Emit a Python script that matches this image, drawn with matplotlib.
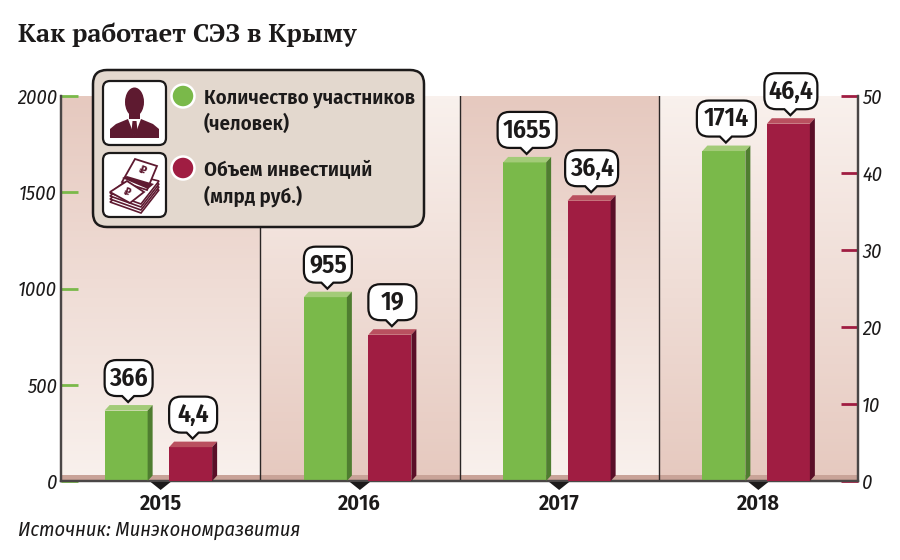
import numpy as np
import matplotlib
matplotlib.use("Agg")
import logging
logging.getLogger("matplotlib.font_manager").setLevel(logging.ERROR)
import matplotlib.pyplot as plt
from matplotlib.patches import FancyBboxPatch, Polygon, PathPatch, Circle, Ellipse, Rectangle
from matplotlib.path import Path
from matplotlib.colors import to_rgb

years = ["2015", "2016", "2017", "2018"]
participants = [366, 955, 1655, 1714]
investments = [4.4, 19, 36.4, 46.4]
participant_labels = ["366", "955", "1655", "1714"]
investment_labels = ["4,4", "19", "36,4", "46,4"]
left_ticks = [0, 500, 1000, 1500, 2000]
right_ticks = [0, 10, 20, 30, 40, 50]
title = "Как работает СЭЗ в Крыму"
source = "Источник: Минэкономразвития"
legend_lines = [("Количество участников", "(человек)"), ("Объем инвестиций", "(млрд руб.)")]

NARROW = ["Fira Sans Condensed", "Roboto Condensed", "PT Sans Narrow", "Roboto", "DejaVu Sans"]
SERIF = ["PT Serif", "Liberation Serif", "DejaVu Serif"]
GREEN, GREEN_TOP, GREEN_SIDE = "#7ab94a", "#a3cb78", "#4f7d30"
RED, RED_TOP, RED_SIDE = "#a01d42", "#b9505f", "#5a0f28"
DARK, LIGHT = "#e6c9bf", "#f9f1ed"
INK = "#1c1a1a"
W, H = 900, 560

fig = plt.figure(figsize=(W / 100, H / 100), dpi=100, facecolor="white")
L, R, T, B = 61, 858, 96, 481
ax = fig.add_axes([L / W, 1 - B / H, (R - L) / W, (B - T) / H])
ax.set_xlim(-0.5, 3.5)
ax.set_ylim(0, 2000)
ax2 = ax.twinx()
ax2.set_ylim(0, 50)
ax2.set_xlim(-0.5, 3.5)

# background bands with alternating vertical gradients
for i in range(len(years)):
    top, bot = (DARK, LIGHT) if i % 2 == 0 else (LIGHT, DARK)
    grad = np.linspace(to_rgb(top), to_rgb(bot), 128)[:, None, :]
    ax.imshow(grad, extent=[i - 0.5, i + 0.5, 0, 2000], aspect="auto", zorder=0, origin="upper")
ax.set_xlim(-0.5, 3.5)
ax.set_ylim(0, 2000)
ax.axhspan(0, 30, color="#c9a398", zorder=1, lw=0)
for i in range(1, len(years)):
    ax.axvline(i - 0.5, color="#2a2626", lw=1.0, zorder=1.5)

x = np.arange(len(years))
bw = 43 / 199.25
off_g, off_r = -34.5 / 199.25, 30 / 199.25
ax.bar(x + off_g, participants, bw, color=GREEN, zorder=3, lw=0)
ax2.bar(x + off_r, investments, bw, color=RED, zorder=3, lw=0)

for a in (ax, ax2):
    a.spines["top"].set_visible(False)
    for s in a.spines.values():
        s.set_linewidth(1.6)
        s.set_color("#4a4646")
    a.patch.set_visible(False)
ax.spines["bottom"].set_color("#2a2626")

ax.set_xticks(x, years, fontfamily=NARROW, fontweight="semibold", fontsize=16, color=INK)
ax.tick_params(axis="x", length=0, pad=9)
ax.set_yticks(left_ticks, [str(v) for v in left_ticks], fontfamily=NARROW, style="italic", fontsize=14.5, color=INK)
ax.tick_params(axis="y", direction="in", length=12.5, width=2, color=GREEN, pad=3)
ax2.set_yticks(right_ticks, [str(v) for v in right_ticks], fontfamily=NARROW, style="italic", fontsize=14.5, color=INK)
ax2.tick_params(axis="y", direction="in", length=12.5, width=2, color=RED, pad=3)

# overlay in pixel coordinates
ov = fig.add_axes([0, 0, 1, 1], zorder=10)
ov.set_xlim(0, W)
ov.set_ylim(H, 0)
ov.axis("off")
ov.patch.set_visible(False)


def to_px(a, xv, yv):
    p = a.transData.transform((xv, yv))
    return p[0], H - p[1]


def bubble(cx, tip_x, tip_y, w, text):
    h, tail, r = 36, 6, 12
    b = tip_y - tail
    t = b - h
    l, rr = cx - w / 2, cx + w / 2
    verts = [(l + r, t), (rr - r, t), (rr, t), (rr, t + r), (rr, b - r), (rr, b), (rr - r, b),
             (tip_x + 6, b), (tip_x, tip_y), (tip_x - 6, b),
             (l + r, b), (l, b), (l, b - r), (l, t + r), (l, t), (l + r, t), (l + r, t)]
    codes = [Path.MOVETO, Path.LINETO, Path.CURVE3, Path.CURVE3, Path.LINETO, Path.CURVE3, Path.CURVE3,
             Path.LINETO, Path.LINETO, Path.LINETO,
             Path.LINETO, Path.CURVE3, Path.CURVE3, Path.LINETO, Path.CURVE3, Path.CURVE3, Path.CLOSEPOLY]
    ov.add_patch(PathPatch(Path(verts, codes), fc="white", ec="#141212", lw=1.6, zorder=6))
    ov.text(cx, (t + b) / 2 + 0.5, text, ha="center", va="center", fontfamily=NARROW,
            fontweight="semibold", fontsize=18.5, color=INK, zorder=7)


def solid(a, xc, val, ctop, cside, label):
    x0, y0 = to_px(a, xc - bw / 2, val)
    x1, y1 = to_px(a, xc + bw / 2, 0)
    dx, dy = 5, 5.5
    ov.add_patch(Polygon([(x0, y0), (x0 + dx, y0 - dy), (x1 + dx, y0 - dy), (x1, y0)], fc=ctop, lw=0, zorder=4))
    ov.add_patch(Polygon([(x1, y0), (x1 + dx, y0 - dy), (x1 + dx, y1 - dy), (x1, y1)], fc=cside, lw=0, zorder=4))
    w = 48 if len(label) <= 3 else 59 if "," not in label else 53
    bubble((x0 + x1 + dx) / 2, (x0 + x1) / 2 + 2, y0 - dy - 3, w, label)


for i in range(len(years)):
    solid(ax, x[i] + off_g, participants[i], GREEN_TOP, GREEN_SIDE, participant_labels[i])
    solid(ax2, x[i] + off_r, investments[i], RED_TOP, RED_SIDE, investment_labels[i])
    cx, cy = to_px(ax, x[i], 0)
    ov.add_patch(Polygon([(cx - 10, cy + 1), (cx + 10, cy + 1), (cx, cy + 9)], fc="#1c1a1a", lw=0, zorder=5))

# title and source
ov.text(18, 35, title, fontfamily=SERIF, fontweight="bold", fontsize=18.3, color=INK, va="center", ha="left")
ov.text(18, 530, source, fontfamily=NARROW, style="italic", fontsize=14.6, color=INK, va="center", ha="left")

# legend
ov.add_patch(FancyBboxPatch((107, 84), 303, 129, boxstyle="round,pad=14,rounding_size=14",
                            fc="#e3d8ce", ec="#1c1a1a", lw=1.8, zorder=8))
for y0 in (81, 153):
    ov.add_patch(FancyBboxPatch((109, y0 + 6), 51, 52, boxstyle="round,pad=6,rounding_size=7",
                                fc="white", ec="#1c1a1a", lw=1.6, zorder=8.1))
ICON = "#5e1a30"
# person icon
ov.add_patch(Polygon([(110, 138), (110, 129), (116, 124), (128, 119), (141, 119), (153, 124), (159, 129), (159, 138)],
                     fc=ICON, lw=0, zorder=8.2))
ov.add_patch(Ellipse((134.5, 102), 19, 29, fc=ICON, lw=0, zorder=8.2))
ov.add_patch(Rectangle((129, 110), 11, 11, fc=ICON, lw=0, zorder=8.2))
ov.add_patch(Polygon([(128, 119), (134.5, 136), (141, 119)], fc="white", lw=0, zorder=8.3))
ov.add_patch(Polygon([(132.5, 121), (136.5, 121), (137.5, 131), (134.5, 137), (131.5, 131)], fc=ICON, lw=0, zorder=8.4))
# money icon: stack of notes
for k, dy in enumerate((10, 7, 4, 1)):
    ov.add_patch(Polygon([(110, 192 + dy), (134, 174 + dy), (159, 180 + dy), (141, 203 + dy)],
                         fc="white", ec=ICON, lw=1.2, zorder=8.2 + k * 0.01))
ov.add_patch(Polygon([(135, 159), (157, 166), (147, 190), (122, 182)], fc="white", ec=ICON, lw=1.3, zorder=8.3))
ov.add_patch(Polygon([(110, 192), (127, 181), (144, 192), (130, 203)], fc="white", ec=ICON, lw=1.3, zorder=8.31))
ov.add_patch(Polygon([(122, 178), (127, 176), (154, 184), (148, 189)], fc=ICON, lw=0, zorder=8.32))
ov.text(142, 171, "₽", fontsize=8, color=ICON, ha="center", va="center", rotation=-20, fontweight="bold", zorder=8.4,
        fontfamily="DejaVu Sans")
ov.text(127, 192, "₽", fontsize=7, color=ICON, ha="center", va="center", rotation=-20, fontweight="bold", zorder=8.4,
        fontfamily="DejaVu Sans")

for (cy, col, lines) in ((96, GREEN, legend_lines[0]), (168, RED, legend_lines[1])):
    ov.add_patch(Circle((183, cy), 11.5, fc=col, ec="white", lw=1.8, zorder=8.5))
    for dy, s in zip((2, 28), lines):
        ov.text(204, cy + dy, s, fontfamily=NARROW, fontweight="semibold", fontsize=14.85, color=INK,
                ha="left", va="center", zorder=8.5)

fig.savefig("out.png", dpi=100)
